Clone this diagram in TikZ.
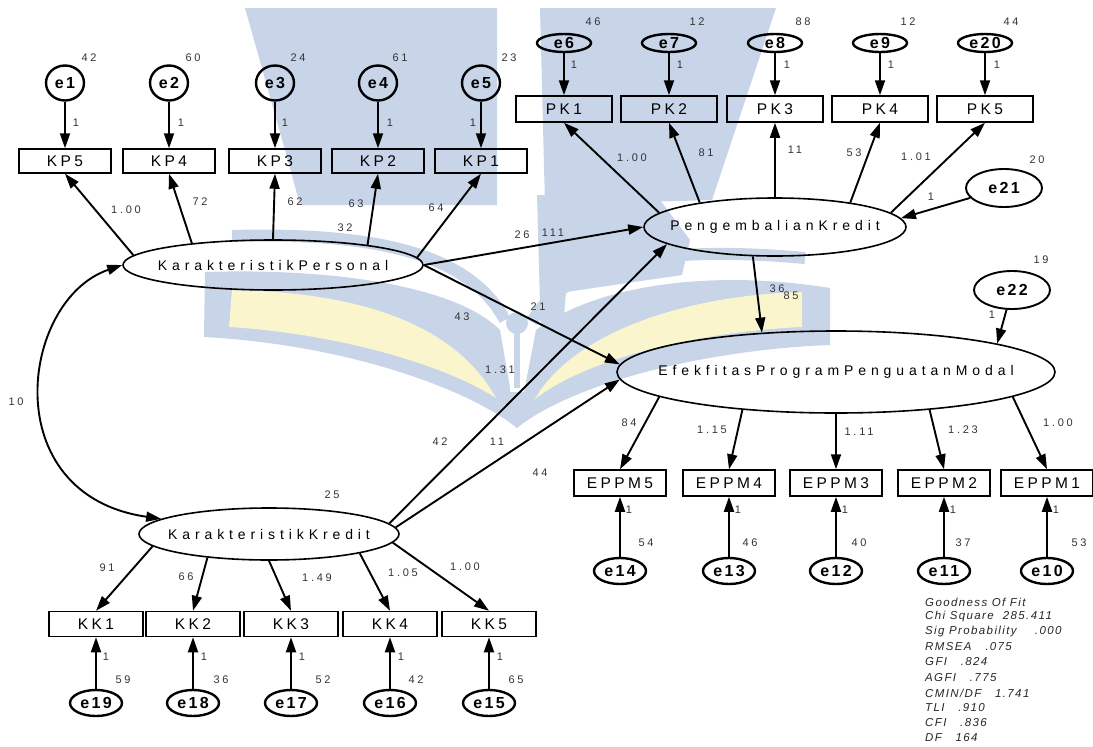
\documentclass[tikz,border=0pt]{standalone}
\usepackage{fontspec}
\setmainfont{Liberation Sans}
\newfontfamily\latfont[LetterSpace=35]{Liberation Sans}
\newfontfamily\boxfont[LetterSpace=22]{Liberation Sans}
\newfontfamily\errfont[LetterSpace=15]{Liberation Sans}
\newfontfamily\numfont[LetterSpace=25]{Liberation Sans}
\newfontfamily\fitfont[LetterSpace=12]{Liberation Sans}
\usetikzlibrary{shapes.geometric,arrows.meta}
\definecolor{wmblue}{RGB}{200,212,232}
\definecolor{wmyellow}{RGB}{251,245,205}

\begin{document}
\begin{tikzpicture}[x=1pt,y=-1pt,
  lat/.style={ellipse, draw, line width=1.6pt, inner sep=0pt},
  lattxt/.style={inner sep=0pt, font=\latfont\fontsize{14}{16}\selectfont},
  obs/.style={rectangle, draw, line width=1.5pt, minimum width=92pt, minimum height=24pt, inner sep=0pt,
    font=\boxfont\fontsize{15.5}{18}\selectfont},
  err/.style={ellipse, draw, line width=2.4pt, inner sep=0pt},
  errtxt/.style={inner sep=0pt, font=\errfont\bfseries\fontsize{16}{18}\selectfont},
  num/.style={inner sep=0pt, font=\numfont\fontsize{11}{13}\selectfont, text=black!80},
  fit/.style={inner sep=0pt, anchor=west, font=\fitfont\itshape\fontsize{11.5}{13}\selectfont, text=black!85},
  arr/.style={line width=1.9pt, -{Triangle[length=15pt,width=10pt]}},
  dbl/.style={line width=1.9pt, {Triangle[length=15pt,width=10pt]}-{Triangle[length=15pt,width=10pt]}}
]
\useasboundingbox (0,0) rectangle (1093,747);
\clip (0,0) rectangle (1093,747);

% ---- faint logo in the background ----
\fill[wmblue] (245,8) -- (497,8) -- (497,205) -- (300,205) -- (285,150) -- cycle;
\fill[wmblue] (540,8) -- (776,8) -- (712,200) -- (545,205) -- cycle;
\fill[wmblue] (537,195) -- (660,200) -- (690,240) -- (682,275) -- (566,292) -- (562,340) -- (541,340) -- cycle;
\draw[wmblue, line width=12pt] (232,236) .. controls (380,232) and (470,255) .. (505,320);
\draw[wmblue, line width=12pt] (805,258) .. controls (660,245) and (565,262) .. (532,322);
\fill[wmblue] (205,272) .. controls (330,268) and (455,285) .. (500,330) -- (517,428)
  .. controls (470,390) and (350,345) .. (204,337) -- cycle;
\fill[wmblue] (517,428) -- (536,330) .. controls (600,282) and (720,270) .. (830,288) -- (830,345)
  .. controls (700,350) and (570,385) .. (517,428) -- cycle;
\fill[wmyellow] (232,290) .. controls (340,292) and (450,315) .. (496,398)
  .. controls (440,362) and (330,333) .. (229,327) -- cycle;
\fill[wmyellow] (534,400) .. controls (575,330) and (690,295) .. (802,292) -- (802,327)
  .. controls (690,332) and (580,362) .. (534,400) -- cycle;
\fill[white] (506,300) .. controls (512,330) and (512,370) .. (510,395) -- (524,395)
  .. controls (522,370) and (522,330) .. (528,300) -- cycle;
\fill[wmblue] (517,323) circle (11);
\fill[wmblue] (514,323) rectangle (520,388);
\fill[wmblue] (495,392) -- (539,392) -- (517,428) -- cycle;

% ---- latent variables ----
\node[lat, minimum width=300pt, minimum height=50pt] (KPers) at (273,265) {};
\node[lattxt] (KPers-t) at (KPers) {KarakteristikPersonal};
\node[lat, minimum width=262pt, minimum height=58pt] (PKr) at (775,227) {};
\node[lattxt] (PKr-t) at (PKr) {PengembalianKredit};
\node[lat, minimum width=438pt, minimum height=82pt] (Efek) at (836,372) {};
\node[lattxt] (Efek-t) at (Efek) {EfekfitasProgramPenguatanModal};
\node[lat, minimum width=260pt, minimum height=52pt] (KKr) at (269,534) {};
\node[lattxt] (KKr-t) at (KKr) {KarakteristikKredit};

% ---- KarakteristikPersonal indicators ----
\foreach \e/\b/\t/\x/\vx/\v/\ox in {
  e1/kp5/KP5/65/89/42/76,
  e2/kp4/KP4/169/193/60/181,
  e3/kp3/KP3/275/298/24/285,
  e4/kp2/KP2/378/400/61/390,
  e5/kp1/KP1/481/509/23/473}{
  \node[err, minimum width=38pt, minimum height=35pt] (\e) at (\x,83) {};
  \node[errtxt] (\e-t) at (\e) {\e};
  \node[num] (\e-v) at (\vx,58) {\v};
  \node[obs] (\b) at (\x,161) {\t};
  \draw[arr] (\e) -- (\b);
  \node[num] (\e-w) at (\ox,123) {1};
}
\foreach \b/\a in {kp5/176,kp4/165,kp3/90,kp2/12,kp1/3}
  \draw[arr] (KPers.\a) -- (\b.south);
\node[num] (lkp5) at (126,210) {1.00};
\node[num] (lkp4) at (200,202) {72};
\node[num] (lkp3) at (295,202) {62};
\node[num] (lkp2) at (356,204) {63};
\node[num] (lkp1) at (436,208) {64};
\node[num] (vkp) at (345,228) {32};

% ---- PengembalianKredit indicators ----
\foreach \e/\b/\t/\x/\vx/\v/\ox in {
  e6/pk1/PK1/564/593/46/574,
  e7/pk2/PK2/669/697/12/680,
  e8/pk3/PK3/775/803/88/787,
  e9/pk4/PK4/880/908/12/891,
  e20/pk5/PK5/985/1011/44/997}{
  \node[err, minimum width=54pt, minimum height=18pt] (\e) at (\x,43) {};
  \node[errtxt] (\e-t) at (\e) {\e};
  \node[num] (\e-v) at (\vx,22) {\v};
  \node[obs, minimum width=96pt, minimum height=26pt] (\b) at (\x,109) {\t};
  \draw[arr] (\e) -- (\b);
  \node[num] (\e-w) at (\ox,65) {1};
}
\foreach \b/\a in {pk1/173,pk2/162,pk3/90,pk4/18,pk5/7}
  \draw[arr] (PKr.\a) -- (\b.south);
\node[num] (lpk1) at (632,158) {1.00};
\node[num] (lpk2) at (706,153) {81};
\node[num] (lpk3) at (795,150) {11};
\node[num] (lpk4) at (854,153) {53};
\node[num] (lpk5) at (916,157) {1.01};

\node[err, minimum width=76pt, minimum height=38pt, line width=1.9pt] (e21) at (1004,188) {};
\node[errtxt] (e21-t) at (e21) {e21};
\node[num] (e21-v) at (1037,160) {20};
\node[num] (e21-w) at (931,197) {1};
\draw[arr] (e21) -- (PKr.4);

% ---- EfekfitasProgramPenguatanModal indicators ----
\foreach \e/\b/\t/\x/\vx/\v/\ox in {
  e14/ep5/EPPM5/620/646/54/629,
  e13/ep4/EPPM4/729/750/46/738,
  e12/ep3/EPPM3/836/859/40/845,
  e11/ep2/EPPM2/944/963/37/953,
  e10/ep1/EPPM1/1047/1079/53/1056}{
  \node[obs, minimum height=26pt] (\b) at (\x,483) {\t};
  \node[err, minimum width=52pt, minimum height=26pt] (\e) at (\x,571) {};
  \node[errtxt] (\e-t) at (\e) {\e};
  \node[num] (\e-v) at (\vx,543) {\v};
  \node[num] (\e-w) at (\ox,510) {1};
  \draw[arr] (\e) -- (\b);
}
\foreach \b/\a in {ep5/188,ep4/202,ep3/270,ep2/338,ep1/352}
  \draw[arr] (Efek.\a) -- (\b.north);
\node[num] (lep5) at (629,423) {84};
\node[num] (lep4) at (712,430) {1.15};
\node[num] (lep3) at (859,432) {1.11};
\node[num] (lep2) at (963,430) {1.23};
\node[num] (lep1) at (1058,423) {1.00};

\node[err, minimum width=76pt, minimum height=38pt, line width=1.9pt] (e22) at (1012,290) {};
\node[errtxt] (e22-t) at (e22) {e22};
\node[num] (e22-v) at (1041,260) {19};
\node[num] (e22-w) at (992,315) {1};
\draw[arr] (e22) -- (Efek.10);

% ---- KarakteristikKredit indicators ----
\foreach \e/\b/\t/\x/\vx/\v/\ox in {
  e19/kk1/KK1/96/123/59/106,
  e18/kk2/KK2/193/221/36/204,
  e17/kk3/KK3/291/323/52/302,
  e16/kk4/KK4/390/416/42/401,
  e15/kk5/KK5/489/516/65/500}{
  \node[obs, minimum width=94pt, minimum height=25pt] (\b) at (\x,624) {\t};
  \node[err, minimum width=52pt, minimum height=26pt] (\e) at (\x,703) {};
  \node[errtxt] (\e-t) at (\e) {\e};
  \node[num] (\e-v) at (\vx,680) {\v};
  \node[num] (\e-w) at (\ox,657) {1};
  \draw[arr] (\e) -- (\b);
}
\foreach \b/\a in {kk1/186,kk2/201,kk3/270,kk4/348,kk5/356}
  \draw[arr] (KKr.\a) -- (\b.north);
\node[num] (lkk1) at (107,568) {91};
\node[num] (lkk2) at (186,577) {66};
\node[num] (lkk3) at (317,578) {1.49};
\node[num] (lkk4) at (403,573) {1.05};
\node[num] (lkk5) at (465,567) {1.00};
\node[num] (vkk) at (332,495) {25};

% ---- structural paths ----
\draw[arr] (KPers.east) -- (PKr.west);
\draw[arr] (KPers.east) -- (Efek.178);
\draw[arr] (PKr.233) -- (Efek.152);
\draw[arr] (KKr.5) -- (PKr.189);
\draw[arr] (KKr.3) -- (Efek.182);
\draw[dbl] (KPers.west) .. controls (20,300) and (-5,495) .. (KKr.172);

\node[num] (p1) at (522,235) {26};
\node[num] (p2) at (553,233) {111};
\node[num] (p3) at (462,317) {43};
\node[num] (p4) at (538,307) {21};
\node[num] (p5) at (500,370) {1.31};
\node[num] (p6) at (440,442) {42};
\node[num] (p7) at (497,442) {11};
\node[num] (p8) at (540,473) {44};
\node[num] (p9) at (777,289) {36};
\node[num] (p10) at (791,296) {85};
\node[num] (cov) at (16,402) {10};

% ---- fit summary ----
\node[fit] (g1) at (925,602) {Goodness Of Fit};
\node[fit] (g2) at (925,617) {Chi Square~~285.411};
\node[fit] (g3) at (925,632) {Sig Probability~~~~.000};
\node[fit] (g4) at (925,647) {RMSEA~~~.075};
\node[fit] (g5) at (925,662) {GFI~~~.824};
\node[fit] (g6) at (925,678) {AGFI~~~.775};
\node[fit] (g7) at (925,693) {CMIN/DF~~~1.741};
\node[fit] (g8) at (925,708) {TLI~~~.910};
\node[fit] (g9) at (925,723) {CFI~~~.836};
\node[fit] (g10) at (925,738) {DF~~~164};
\end{tikzpicture}
\end{document}
